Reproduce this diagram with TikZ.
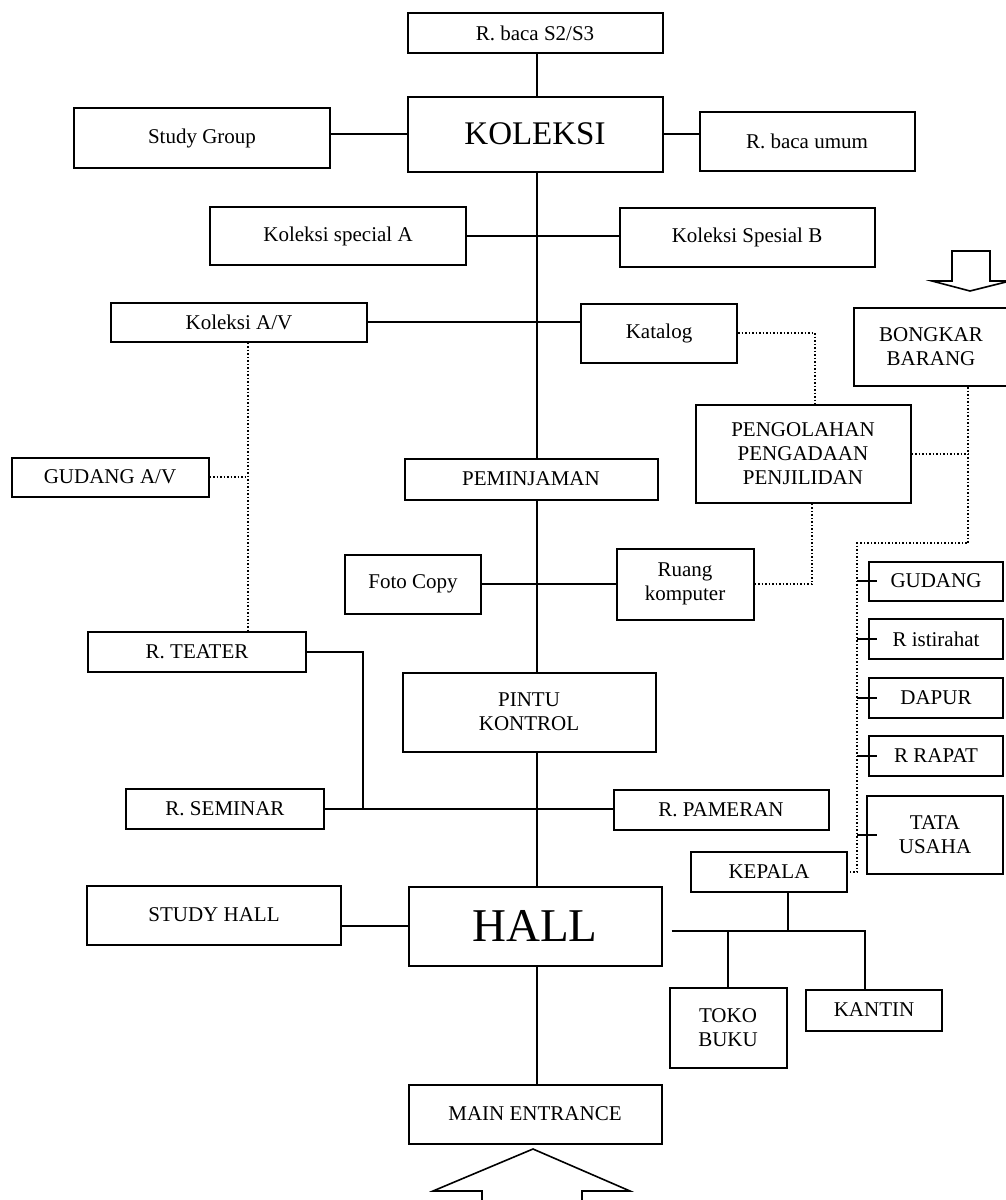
\documentclass[tikz,border=0pt]{standalone}
\usepackage{fontspec}
\setmainfont{Liberation Serif}
\usetikzlibrary{calc}

\begin{document}
\begin{tikzpicture}[x=1pt, y=-1pt,
    room/.style={draw, line width=2pt, inner sep=0pt, align=center, font=\fontsize{21}{24}\selectfont},
    link/.style={line width=1.5pt},
    dotline/.style={line width=1.5pt, dash pattern=on 1.5pt off 2pt},
    tick/.style={line width=2pt},
    arrowline/.style={line width=1.6pt, line join=miter}]
    \useasboundingbox (0,0) rectangle (1005,1200);

    \node[room, minimum width=255pt, minimum height=40pt] (bacaS) at (535,33) {R. baca S2/S3};
    \node[room, minimum width=255pt, minimum height=75pt, font=\fontsize{33}{36}\selectfont] (koleksi) at (535,134) {KOLEKSI};
    \node[room, minimum width=256pt, minimum height=60pt] (study) at (202,138) {Study Group};
    \node[room, minimum width=215pt, minimum height=59pt] (umum) at (807,141) {R. baca umum};
    \node[room, minimum width=256pt, minimum height=58pt] (spesA) at (338,236) {Koleksi special A};
    \node[room, minimum width=255pt, minimum height=59pt] (spesB) at (747,237) {Koleksi Spesial B};
    \node[room, minimum width=256pt, minimum height=39pt] (kolAV) at (239,322) {Koleksi A/V};
    \node[room, minimum width=156pt, minimum height=59pt] (katalog) at (659,333) {Katalog};
    \node[room, minimum width=154pt, minimum height=78pt] (bongkar) at (931,347) {BONGKAR\\BARANG};
    \node[room, minimum width=215pt, minimum height=98pt] (pengolahan) at (803,454) {PENGOLAHAN\\PENGADAAN\\PENJILIDAN};
    \node[room, minimum width=197pt, minimum height=39pt] (gudangAV) at (110,477) {GUDANG A/V};
    \node[room, minimum width=253pt, minimum height=41pt] (peminjaman) at (531,479) {PEMINJAMAN};
    \node[room, minimum width=136pt, minimum height=59pt] (fotocopy) at (413,584) {Foto Copy};
    \node[room, minimum width=137pt, minimum height=71pt] (ruang) at (685,584) {Ruang\\komputer};
    \node[room, minimum width=134pt, minimum height=39pt] (gudang) at (936,581) {GUDANG};
    \node[room, minimum width=134pt, minimum height=40pt] (istirahat) at (936,639) {R istirahat};
    \node[room, minimum width=134pt, minimum height=40pt] (dapur) at (936,698) {DAPUR};
    \node[room, minimum width=134pt, minimum height=40pt] (rapat) at (936,756) {R RAPAT};
    \node[room, minimum width=136pt, minimum height=78pt] (tata) at (935,835) {TATA\\USAHA};
    \node[room, minimum width=218pt, minimum height=40pt] (teater) at (197,652) {R. TEATER};
    \node[room, minimum width=253pt, minimum height=79pt] (pintu) at (529,712) {PINTU\\KONTROL};
    \node[room, minimum width=198pt, minimum height=40pt] (seminar) at (225,809) {R. SEMINAR};
    \node[room, minimum width=215pt, minimum height=40pt] (pameran) at (721,810) {R. PAMERAN};
    \node[room, minimum width=156pt, minimum height=40pt] (kepala) at (769,872) {KEPALA};
    \node[room, minimum width=254pt, minimum height=59pt] (studyhall) at (214,915) {STUDY HALL};
    \node[room, minimum width=253pt, minimum height=79pt, font=\fontsize{47}{50}\selectfont] (hall) at (535,926) {HALL};
    \node[room, minimum width=117pt, minimum height=80pt] (toko) at (728,1028) {TOKO\\BUKU};
    \node[room, minimum width=136pt, minimum height=41pt] (kantin) at (874,1010) {KANTIN};
    \node[room, minimum width=253pt, minimum height=59pt] (entrance) at (535,1114) {MAIN ENTRANCE};

    \coordinate (spine) at (537,0);
    \foreach \a/\b in {bacaS/koleksi, koleksi/peminjaman, peminjaman/pintu, pintu/hall, hall/entrance}
    \draw[link] (\a.south -| spine) -- (\b.north -| spine);

    \draw[link] (koleksi.west) -- (koleksi.west -| study.east);
    \draw[link] (koleksi.east) -- (koleksi.east -| umum.west);
    \draw[link] (spesA.east) -- (spesA.east -| spesB.west);
    \draw[link] (kolAV.east) -- (kolAV.east -| katalog.west);
    \draw[link] (fotocopy.east) -- (ruang.west);
    \draw[link] (seminar.east) -- (seminar.east -| pameran.west);
    \draw[link] (hall.west) -- (hall.west -| studyhall.east);

    \coordinate (sem) at (363,809);
    \draw[link] (teater.east) -| (sem);

    \coordinate (kb) at (788,931);
    \coordinate (kn) at (865,931);
    \draw[link] ($(hall.east |- kb)+(9,0)$) -- (kn) -- (kn |- kantin.north);
    \draw[link] (kepala.south -| kb) -- (kb);
    \draw[link] (kb -| toko) -- (toko.north);

    \coordinate (av) at (248,0);
    \draw[dotline] (kolAV.south -| av) -- (teater.north -| av);
    \draw[dotline] (gudangAV.east) -- (gudangAV.east -| av);

    \coordinate (kt) at (815,0);
    \coordinate (rk) at (812,0);
    \draw[dotline] (katalog.east) -| (pengolahan.north -| kt);
    \draw[dotline] (ruang.east) -| (pengolahan.south -| rk);

    \coordinate (d1) at (968,543);
    \coordinate (d2) at (857,543);
    \draw[dotline] (bongkar.south -| d1) -- (d1) -- (d2) -- (d2 |- kepala.east) -- (kepala.east);
    \draw[dotline] (pengolahan.east) -- (pengolahan.east -| d1);

    \foreach \r in {gudang, istirahat, dapur, rapat, tata}
    \draw[tick] (\r.west -| d2) -- ++(20,0);

    \draw[arrowline] (952,251) -- (990,251) -- (990,281) -- (1010,281) -- (970,291) -- (932,281) -- (952,281) -- cycle;
    \draw[arrowline] (482,1210) -- (482,1191) -- (433,1191) -- (533,1149) -- (630,1191) -- (582,1191) -- (582,1210);
\end{tikzpicture}
\end{document}
